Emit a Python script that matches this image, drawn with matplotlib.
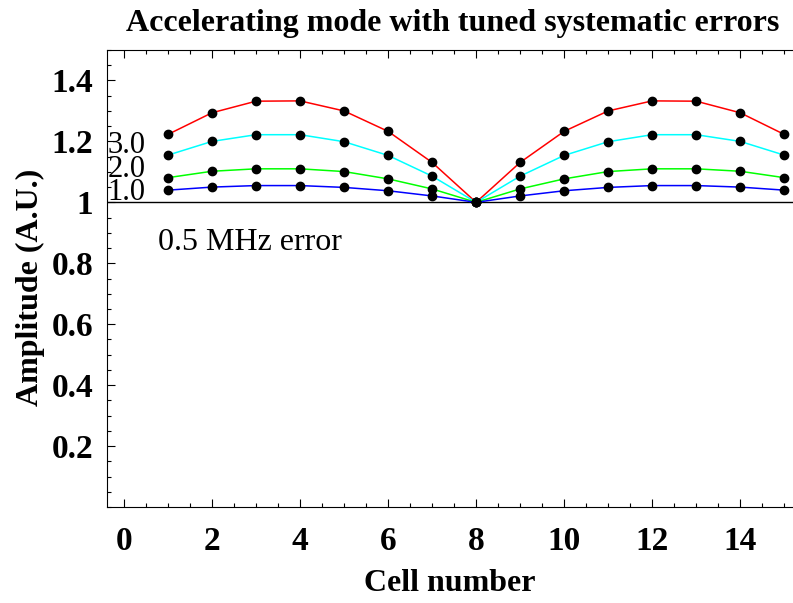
import numpy as np
import matplotlib
matplotlib.use("Agg")
import matplotlib.pyplot as plt
from matplotlib.ticker import MultipleLocator, FixedLocator

plt.rcParams['font.family'] = ['Liberation Serif', 'DejaVu Serif']

# Cell numbers and amplitudes for each error level
cells = [1, 2, 3, 4, 5, 6, 7, 8, 9, 10, 11, 12, 13, 14, 15]
amp_3 = [1.223, 1.294, 1.332, 1.333, 1.300, 1.233, 1.131, 1.0,
         1.131, 1.233, 1.300, 1.333, 1.332, 1.294, 1.223]
amp_2 = [1.155, 1.200, 1.222, 1.222, 1.199, 1.154, 1.086, 1.0,
         1.086, 1.154, 1.199, 1.222, 1.222, 1.200, 1.155]
amp_1 = [1.081, 1.102, 1.110, 1.110, 1.101, 1.077, 1.044, 1.0,
         1.044, 1.077, 1.101, 1.110, 1.110, 1.102, 1.081]
amp_05 = [1.040, 1.050, 1.055, 1.055, 1.049, 1.038, 1.021, 1.0,
          1.021, 1.038, 1.049, 1.055, 1.055, 1.050, 1.040]

series = [(amp_3, '#ff0000'), (amp_2, '#00ffff'), (amp_1, '#00ff00'), (amp_05, '#0000ff')]
curve_labels = ['3.0', '2.0', '1.0']
label_y = [1.161, 1.083, 1.007]

yticks = [0.2, 0.4, 0.6, 0.8, 1.0, 1.2, 1.4]
ytick_labels = ['0.2', '0.4', '0.6', '0.8', '1', '1.2', '1.4']
xticks = [0, 2, 4, 6, 8, 10, 12, 14]

fig = plt.figure(figsize=(7.93, 6.03), dpi=100)
ax = fig.add_axes([107 / 793, 96 / 603, 686 / 793, 457 / 603])

ax.axhline(1.0, color='black', lw=1.0, zorder=1)
for amp, col in series:
    ax.plot(cells, amp, color=col, lw=1.1, zorder=2)
    ax.plot(cells, amp, 'o', color='black', ms=6, zorder=3)

# curve labels at the left edge (they crowd each other in the original too)
for lab, yy in zip(curve_labels, label_y):
    ax.text(-0.37, yy, lab, fontsize=22, va='baseline', ha='left')
ax.text(0.77, 0.843, '0.5 MHz error', fontsize=23, va='baseline', ha='left')

ax.set_xlim(-0.386, 15.2)
ax.set_ylim(0, 1.5)
ax.xaxis.set_major_locator(FixedLocator(xticks))
ax.xaxis.set_minor_locator(MultipleLocator(0.5))
ax.yaxis.set_major_locator(FixedLocator(yticks))
ax.set_yticklabels(ytick_labels)
ax.yaxis.set_minor_locator(MultipleLocator(0.05))

ax.tick_params(which='both', direction='in', top=True, right=False,
               labelsize=24, width=0.8)
ax.tick_params(which='major', length=6)
ax.tick_params(which='minor', length=3)
ax.tick_params(axis='x', pad=14)
ax.tick_params(axis='y', pad=10)
for lab in ax.get_xticklabels() + ax.get_yticklabels():
    lab.set_fontweight('bold')

ax.spines['right'].set_visible(False)
for s in ['left', 'bottom', 'top']:
    ax.spines[s].set_linewidth(0.8)

ax.set_xlabel('Cell number', fontsize=23, fontweight='bold', labelpad=8)
ax.set_ylabel('Amplitude (A.U.)', fontsize=23, fontweight='bold')
ax.yaxis.set_label_coords(-0.09, 0.481)
fig.text(453 / 793, 1 - 31 / 603, 'Accelerating mode with tuned systematic errors',
         fontsize=23, fontweight='bold', ha='center', va='baseline')

fig.savefig('out.png', dpi=100)
